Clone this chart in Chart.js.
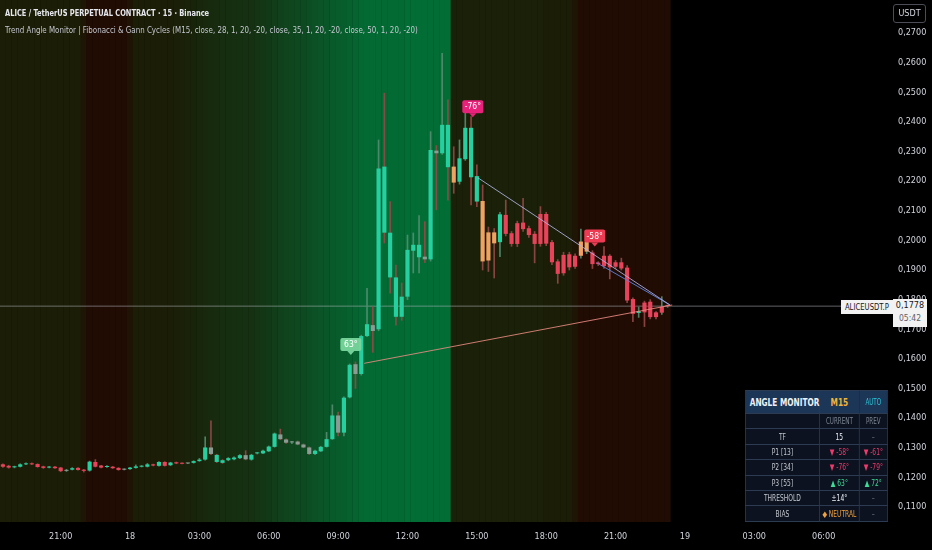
<!DOCTYPE html>
<html><head><meta charset="utf-8">
<script src="https://cdn.jsdelivr.net/npm/chart.js@4.4.1/dist/chart.umd.min.js"></script>
<style>
html,body{margin:0;padding:0;background:#000;}
#wrap{position:relative;width:932px;height:550px;overflow:hidden;background:#000;font-family:'Liberation Sans Narrow','DejaVu Sans Condensed','Roboto',sans-serif;}
#c{position:absolute;left:0;top:0;}
.t1{position:absolute;left:5px;top:7px;font-size:9.5px;font-weight:bold;color:#e6e8ee;white-space:nowrap;transform:scaleX(0.78);transform-origin:left top;}
.t2{position:absolute;left:5px;top:24px;font-size:9.5px;color:#c4c7cf;white-space:nowrap;transform:scaleX(0.83);transform-origin:left top;}
.usdt{position:absolute;left:893px;top:4px;width:31px;height:17px;border:1px solid #4a4d55;border-radius:3px;color:#d1d4dc;font-size:9px;line-height:17px;text-align:center;}
.sym{position:absolute;left:841px;top:300px;width:52px;height:14px;background:#f2f2f2;color:#131722;font-size:9px;line-height:14px;text-align:center;white-space:nowrap;}
.sym span{display:inline-block;transform:scaleX(0.85);}
.px{position:absolute;left:893px;top:299px;width:34px;height:28px;background:#f2f2f2;color:#131722;font-size:9px;text-align:center;line-height:13px;}
.px span{display:block;color:#5d606b;font-size:8.5px;}
#tb{position:absolute;left:745px;top:390px;width:182px;transform:scaleX(0.78);transform-origin:left top;}
table.am{border-collapse:collapse;table-layout:fixed;width:182px;background:rgba(13,20,34,0.92);border:1px solid #4f5f7e;font-size:8.5px;color:#c3c7cf;}
table.am td{border:1px solid #2c3a52;height:14.4px;padding:0;text-align:center;white-space:nowrap;overflow:hidden;}
table.am tr.h td{background:#1c3658;height:22px;border-color:#2c3a52;}
.hl{font-size:10.5px;font-weight:bold;color:#eef1f6;text-align:left!important;padding-left:5px!important;overflow:visible!important;}
.m15{font-size:10.5px;font-weight:bold;color:#f0b43a;}
.auto{font-size:8px;color:#2ec4d6;}
.sub{color:#7d8594;font-size:8px;}
.rd{color:#ee3b6b;}
.gr{color:#3ddc97;}
.wh{color:#eef1f6;}
.dash{color:#6b7382;}
.neu{color:#f0a040;}
</style>
</head><body>
<div id="wrap">
<canvas id="c" width="932" height="550"></canvas>
<div class="t1">ALICE / TetherUS PERPETUAL CONTRACT · 15 · Binance</div>
<div class="t2">Trend Angle Monitor | Fibonacci &amp; Gann Cycles (M15, close, 28, 1, 20, -20, close, 35, 1, 20, -20, close, 50, 1, 20, -20)</div>
<div class="usdt">USDT</div>
<div class="sym"><span>ALICEUSDT.P</span></div>
<div class="px">0,1778<span>05:42</span></div>
<div id="tb">
<table class="am">
<colgroup><col style="width:95px"><col style="width:51px"><col style="width:36px"></colgroup>
<tr class="h"><td class="hl">ANGLE MONITOR</td><td class="m15">M15</td><td class="auto">AUTO</td></tr>
<tr><td></td><td class="sub">CURRENT</td><td class="sub">PREV</td></tr>
<tr><td>TF</td><td class="wh">15</td><td class="dash">–</td></tr>
<tr><td>P1 [13]</td><td class="rd">▼ -58°</td><td class="rd">▼ -61°</td></tr>
<tr><td>P2 [34]</td><td class="rd">▼ -76°</td><td class="rd">▼ -79°</td></tr>
<tr><td>P3 [55]</td><td class="gr">▲ 63°</td><td class="gr">▲ 72°</td></tr>
<tr><td>THRESHOLD</td><td class="wh">±14°</td><td class="dash">–</td></tr>
<tr><td>BIAS</td><td class="neu">◆ NEUTRAL</td><td class="dash">–</td></tr>
</table>
</div>
</div>
<script>
// ---------- DATA ----------
const opens  = [.1244,.1239,.1234,.1236,.1244,.1247,.1245,.1237,.1233,.1236,.1233,.1222,.1226,.1232,.1226,.1223,.1252,.1240,.1235,.1236,
                .1232,.1226,.1228,.1232,.1236,.1236,.1244,.1239,.1252,.1241,.1251,.1248,.1247,.1249,.1255,.1260,.1301,.1276,.1258,.1258,
                .1261,.1265,.1275,.1260,.1281,.1281,.1288,.1303,.1345,.1328,.1318,.1321,.1311,.1301,.1279,.1288,.1303,.1329,.1409,.1351,
                .1470,.1582,.1549,.1677,.1714,.1700,.2249,.2026,.1875,.1810,.1810,.1965,.1943,.1945,.1936,.2303,.2294,.2390,.2249,.2198,
                .2274,.2380,.2217,.2133,.2027,.2027,.1994,.2086,.2024,.2058,.2060,.2041,.2022,.2089,.2089,.1994,.1929,.1951,.1953,.1948,
                .1948,.1962,.1959,.1925,.1948,.1948,.1926,.1926,.1908,.1802,.1755,.1790,.1793,.1757,.1756,.1778];
const closes = [.1236,.1233,.1235,.1244,.1247,.1244,.1235,.1232,.1235,.1231,.1221,.1225,.1231,.1225,.1222,.1253,.1236,.1233,.1238,.1231,
                .1225,.1228,.1233,.1237,.1238,.1244,.1240,.1252,.1239,.1250,.1247,.1246,.1247,.1255,.1260,.1301,.1279,.1252,.1249,.1265,
                .1267,.1275,.1261,.1276,.1282,.1290,.1304,.1348,.1329,.1317,.1318,.1311,.1301,.1279,.1290,.1303,.1329,.1409,.1351,.1469,
                .1580,.1549,.1677,.1717,.1694,.2243,.2026,.1875,.1742,.1742,.1968,.1985,.1985,.1936,.2305,.2294,.2390,.2247,.2195,.2277,
                .2380,.2213,.2131,.1929,.1932,.1990,.2088,.2022,.1988,.1988,.2038,.2018,.1988,.1988,.1989,.1926,.1887,.1889,.1909,.1911,
                .1996,.1996,.1920,.1920,.1913,.1909,.1911,.1905,.1797,.1752,.1761,.1757,.1741,.1741,.1776,.1778];
const highs  = [.1246,.1241,.1238,.1246,.1249,.1249,.1246,.1238,.1237,.1237,.1234,.1227,.1233,.1233,.1227,.1255,.1260,.1241,.1240,.1237,
                .1233,.1229,.1234,.1242,.1240,.1247,.1245,.1253,.1253,.1251,.1252,.1249,.1248,.1256,.1264,.1337,.1391,.1278,.1260,.1267,
                .1269,.1277,.1290,.1278,.1284,.1292,.1306,.1350,.1363,.1330,.1322,.1323,.1313,.1303,.1292,.1305,.1352,.1445,.1420,.1472,
                .1583,.1590,.1680,.1838,.1776,.2339,.2497,.2131,.1917,.1856,.2018,.2025,.2084,.2063,.2367,.2320,.2631,.2474,.2316,.2339,
                .2446,.2418,.2255,.2187,.2045,.2040,.2095,.2136,.2030,.2065,.2142,.2048,.2030,.2114,.2095,.2000,.1935,.1960,.1960,.1955,
                .2038,.2005,.1965,.1928,.1979,.1952,.1932,.1940,.1915,.1806,.1775,.1795,.1800,.1760,.1810,.1782];
const lows   = [.1234,.1231,.1232,.1235,.1243,.1243,.1234,.1230,.1232,.1230,.1219,.1220,.1225,.1224,.1218,.1221,.1235,.1232,.1234,.1230,
                .1224,.1225,.1227,.1231,.1235,.1235,.1239,.1238,.1238,.1240,.1246,.1245,.1246,.1248,.1254,.1258,.1277,.1250,.1247,.1256,
                .1259,.1263,.1259,.1258,.1279,.1280,.1287,.1302,.1327,.1315,.1314,.1310,.1300,.1277,.1277,.1287,.1302,.1328,.1340,.1340,
                .1468,.1500,.1545,.1675,.1622,.1695,.1991,.1822,.1714,.1730,.1800,.1890,.1890,.1925,.1930,.2103,.2290,.2136,.2159,.2190,
                .2270,.2120,.2114,.1900,.1895,.1873,.1945,.2015,.1980,.1979,.2030,.2010,.1924,.1980,.1982,.1918,.1855,.1882,.1900,.1905,
                .1940,.1955,.1905,.1915,.1905,.1870,.1905,.1900,.1790,.1726,.1740,.1709,.1735,.1735,.1750,.1774];
// indicator state of each bar: u = bullish, d = bearish, o = weakening, n = neutral (10 bars per chunk)
const barStates = ['dduuudddud','dnudduddud','dnuuuududu','ddnuuunuuu','uunuuuuunn',
                   'nnnnuuuunu','unuunuuuuu','uuununuuou','uuuooouddd','dddddddddd',
                   'oodddddddd','uddddd'].join('').split('');
// background trend score per bar (-1 bearish … +1 bullish)
const bgScore = [0,0,0,0,0,0,0,0,0,0,0,0,0,0,-0.5,-1,-1,-1,-1,-1,-1,-1,-0.6,
                 0,0,0,0,0,0,0,0.03,0.05,0.06,0.08,
                 0.12,0.14,0.16,0.18,0.2,0.21,0.22,0.23,0.24,0.25,0.28,0.31,0.35,0.4,0.45,0.48,0.5,0.53,0.56,0.6,0.64,0.68,0.72,0.75,0.78,0.8,0.84,0.88,0.92,
                 0.95,0.95,0.95,0.95,0.95,0.95,0.95,1,1,1,1,1,1,1,1,
                 0.05,0.05,0.05,0.05,0.05,0.05,0.05,0.05,0.05,0.05,0.05,0.05,0.05,0.05,0.05,0.05,
                 0,0,0,0,0,-0.5,
                 -1,-1,-1,-1,-1,-1,-1,-1,-1,-1,-1,-1,-1,-1,-1,-1];
const currentPrice = 0.1778;
const tickSlots  = [10,22,34,46,58,70,82,94,106,118,130,142];
const tickLabels = ['21:00','18','03:00','06:00','09:00','12:00','15:00','18:00','21:00','19','03:00','06:00'];
const priceTicks = [0.27,0.26,0.25,0.24,0.23,0.22,0.21,0.20,0.19,0.18,0.17,0.16,0.15,0.14,0.13,0.12,0.11];
// angle lines [slot, price]
const lineP1 = [[102.7,0.1925],[115.4,0.1782]];
const lineP2 = [[82.2,0.2211],[115.4,0.1782]];
const lineP3 = [[62.5,0.1585],[115.8,0.1782]];
// angle labels
const labelSlots  = [60.2, 81.3, 102.4];
const labelPrices = [0.1613, 0.2416, 0.1979];
const labelTexts  = ['63°', '-76°', '-58°'];
const labelKinds  = ['p3', 'p2', 'p1'];

// ---------- STYLE ----------
const bodyCol = {u:'#26cfa0', d:'#e8435a', o:'#f0a263', n:'#8d9b94'};
const labelCol = {p3:'rgba(120,214,156,0.95)', p2:'#e8217a', p1:'#ec3b52'};
const FONT = "'Liberation Sans Narrow','DejaVu Sans Condensed','Roboto',sans-serif";
function mix(a,b,t){return 'rgb('+a.map((v,i)=>Math.round(v+(b[i]-v)*t)).join(',')+')';}
const OLIVE=[27,29,6], GREEN=[2,110,54], REDB=[33,12,4];
function bgColor(s){return s>=0?mix(OLIVE,GREEN,s):mix(OLIVE,REDB,-s);}

const slots = opens.map((_,i)=>i);
const wickData = slots.map(i=>({x:i,y:[lows[i],highs[i]]}));
const bodyData = slots.map(i=>({x:i,y:[opens[i],closes[i]]}));
const bgData   = slots.map(i=>({x:i,y:1}));
const pts = a => a.map(p=>({x:p[0],y:p[1]}));

const angleLabelPlugin = {
  id:'angleLabels',
  afterDatasetsDraw(chart){
    const {ctx, scales:{x,y}} = chart;
    ctx.save();
    labelSlots.forEach((s,i)=>{
      const px = x.getPixelForValue(s), py = y.getPixelForValue(labelPrices[i]);
      const w=21,h=13,tip=4;
      ctx.fillStyle = labelCol[labelKinds[i]];
      ctx.beginPath();
      if (ctx.roundRect) ctx.roundRect(px-w/2, py-tip-h, w, h, 2); else ctx.rect(px-w/2, py-tip-h, w, h);
      ctx.fill();
      ctx.beginPath(); ctx.moveTo(px-3.5,py-tip); ctx.lineTo(px+3.5,py-tip); ctx.lineTo(px,py); ctx.closePath(); ctx.fill();
      ctx.fillStyle='#ffffff'; ctx.font='8.5px '+FONT; ctx.textAlign='center'; ctx.textBaseline='middle';
      ctx.fillText(labelTexts[i], px, py-tip-h/2+0.5);
    });
    ctx.restore();
  }
};
const noPad = s => { s.paddingTop=0; s.paddingBottom=0; s.paddingLeft=0; s.paddingRight=0; };

new Chart(document.getElementById('c'), {
  type:'bar',
  data:{datasets:[
    {type:'bar', data:bgData, yAxisID:'yb', backgroundColor:bgData.map((_,i)=>bgColor(bgScore[i])), borderWidth:0, barPercentage:1.06, categoryPercentage:1, grouped:false, order:10},
    {type:'line', data:[{x:-0.5,y:currentPrice},{x:160,y:currentPrice}], borderColor:'rgba(175,178,185,0.55)', borderWidth:1, pointRadius:0, order:8},
    {type:'bar', data:wickData, backgroundColor:slots.map(i=>closes[i]>=opens[i]?'rgba(86,140,112,0.9)':'rgba(150,72,72,0.9)'), borderWidth:0, barThickness:1, grouped:false, order:6},
    {type:'bar', data:bodyData, backgroundColor:slots.map(i=>bodyCol[barStates[i]]), borderWidth:0, barPercentage:0.72, categoryPercentage:1, grouped:false, minBarLength:1, order:5},
    {type:'line', data:pts(lineP3), borderColor:'rgba(236,140,130,0.85)', borderWidth:1, pointRadius:0, order:2},
    {type:'line', data:pts(lineP2), borderColor:'rgba(178,180,230,0.85)', borderWidth:1, pointRadius:0, order:2},
    {type:'line', data:pts(lineP1), borderColor:'rgba(90,130,225,0.9)', borderWidth:1, pointRadius:0, order:2}
  ]},
  options:{
    responsive:false, animation:false, devicePixelRatio:1,
    layout:{padding:0},
    plugins:{legend:{display:false}, tooltip:{enabled:false}},
    scales:{
      x:{type:'linear', min:-0.5, max:154, offset:false,
         grid:{display:false, drawTicks:false}, border:{display:false},
         afterBuildTicks:s=>{s.ticks = tickSlots.map(v=>({value:v}));},
         afterFit:s=>{s.height=28; noPad(s);},
         ticks:{autoSkip:false, maxRotation:0, padding:9, color:'#d1d4dc', font:{size:9, family:FONT},
                callback:v=>tickLabels[tickSlots.indexOf(v)]}},
      y:{type:'linear', position:'right', min:0.104937, max:0.281139,
         grid:{display:false, drawTicks:false}, border:{display:false},
         afterBuildTicks:s=>{s.ticks = priceTicks.map(v=>({value:v}));},
         afterFit:s=>{s.width=39; noPad(s);},
         ticks:{padding:5, color:'#d1d4dc', font:{size:9, family:FONT},
                callback:v=>v.toFixed(4).replace('.',',')}},
      yb:{type:'linear', display:false, min:0, max:1}
    }
  },
  plugins:[angleLabelPlugin]
});
</script>
</body></html>
